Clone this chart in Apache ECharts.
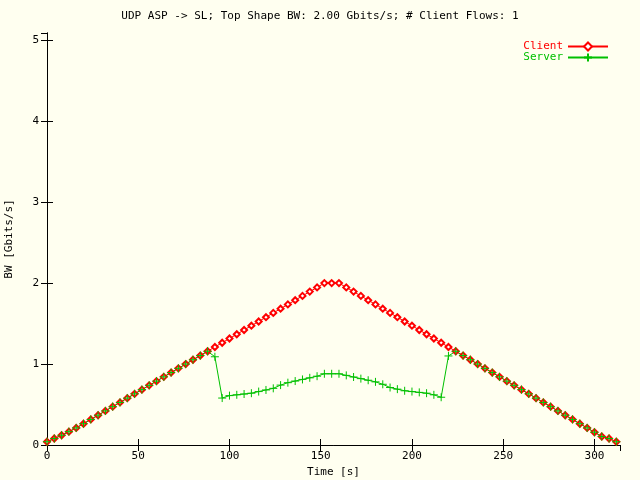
<!DOCTYPE html><html><head><meta charset="utf-8">
<script src="https://cdn.jsdelivr.net/npm/echarts@6/dist/echarts.min.js"></script>
<style>html,body{margin:0;background:#fffff0}#c{width:640px;height:480px}</style></head><body><div id="c"></div>
<script>
const times=[0,4,8,12,16,20,24,28,32,36,40,44,48,52,56,60,64,68,72,76,80,84,88,92,96,100,104,108,112,116,120,124,128,132,136,140,144,148,152,156,160,164,168,172,176,180,184,188,192,196,200,204,208,212,216,220,224,228,232,236,240,244,248,252,256,260,264,268,272,276,280,284,288,292,296,300,304,308,312];
const client=[0.04,0.08,0.12,0.165,0.211,0.263,0.316,0.368,0.421,0.474,0.526,0.579,0.632,0.684,0.737,0.789,0.842,0.895,0.947,1.0,1.053,1.105,1.158,1.211,1.263,1.316,1.368,1.421,1.474,1.526,1.579,1.632,1.684,1.737,1.789,1.842,1.895,1.947,2.0,2.0,2.0,1.947,1.895,1.842,1.789,1.737,1.684,1.632,1.579,1.526,1.474,1.421,1.368,1.316,1.263,1.211,1.158,1.105,1.053,1.0,0.947,0.895,0.842,0.789,0.737,0.684,0.632,0.579,0.526,0.474,0.421,0.368,0.316,0.263,0.211,0.158,0.105,0.08,0.04];
const server=[0.04,0.08,0.12,0.165,0.211,0.263,0.316,0.368,0.421,0.474,0.526,0.579,0.632,0.684,0.737,0.789,0.842,0.895,0.947,1.0,1.053,1.105,1.158,1.09,0.58,0.61,0.62,0.63,0.64,0.66,0.68,0.70,0.74,0.77,0.79,0.81,0.83,0.85,0.88,0.88,0.88,0.86,0.84,0.82,0.80,0.78,0.75,0.71,0.69,0.67,0.66,0.65,0.64,0.62,0.59,1.10,1.158,1.105,1.053,1.0,0.947,0.895,0.842,0.789,0.737,0.684,0.632,0.579,0.526,0.474,0.421,0.368,0.316,0.263,0.211,0.158,0.105,0.08,0.04];
const titleText='UDP ASP -> SL; Top Shape BW: 2.00 Gbits/s; # Client Flows: 1';
const font='DejaVu Sans Mono';
const c=echarts.init(document.getElementById('c'));
const tick={inside:true,length:6,lineStyle:{color:'#000'}};
c.setOption({
 backgroundColor:'#fffff0',animation:false,
 textStyle:{fontFamily:font,fontSize:11,color:'#000'},
 title:{text:titleText,left:'center',top:6,textStyle:{fontFamily:font,fontSize:11,fontWeight:'normal',color:'#000'}},
 legend:{right:26,top:36,orient:'vertical',align:'right',itemGap:0,itemWidth:40,itemHeight:10,textStyle:{fontFamily:font,fontSize:11},
  data:[{name:'Client',textStyle:{color:'#ff0000'}},{name:'Server',textStyle:{color:'#00c000'}}]},
 grid:{left:47,right:20,top:33,bottom:35,outerBoundsMode:'none',containLabel:false},
 xAxis:[{type:'value',min:0,max:314,interval:50,name:'Time [s]',nameLocation:'middle',nameGap:22,nameTextStyle:{fontFamily:font,fontSize:11},
   axisLine:{lineStyle:{color:'#000'}},axisTick:tick,splitLine:{show:false},axisLabel:{color:'#000',fontFamily:font,fontSize:11,margin:6,showMaxLabel:false}},
  {type:'value',position:'top',min:0,max:314,interval:50,axisLine:{show:true,lineStyle:{color:'#000'}},axisTick:tick,axisLabel:{show:false},splitLine:{show:false}}],
 yAxis:[{type:'value',min:0,max:5.09,interval:1,name:'BW [Gbits/s]',nameLocation:'middle',nameGap:32,nameTextStyle:{fontFamily:font,fontSize:11},
   axisLine:{show:true,lineStyle:{color:'#000'}},axisTick:tick,splitLine:{show:false},axisLabel:{color:'#000',fontFamily:font,fontSize:11,margin:8,showMaxLabel:false}},
  {type:'value',position:'right',min:0,max:5.09,interval:1,axisLine:{show:true,lineStyle:{color:'#000'}},axisTick:tick,axisLabel:{show:false},splitLine:{show:false}}],
 series:[
  {name:'Client',type:'line',data:times.map((t,i)=>[t,client[i]]),symbol:'emptyDiamond',symbolSize:6,color:'#ff0000',lineStyle:{width:1,color:'#ff0000'},itemStyle:{color:'#ff0000',borderColor:'#ff0000',borderWidth:1}},
  {name:'Server',type:'line',data:times.map((t,i)=>[t,server[i]]),symbol:'path://M0,5H10M5,0V10',symbolSize:8,color:'#00c000',lineStyle:{width:1,color:'#00c000'},itemStyle:{color:'#00c000',borderColor:'#00c000',borderWidth:1}}
 ]});
</script></body></html>
